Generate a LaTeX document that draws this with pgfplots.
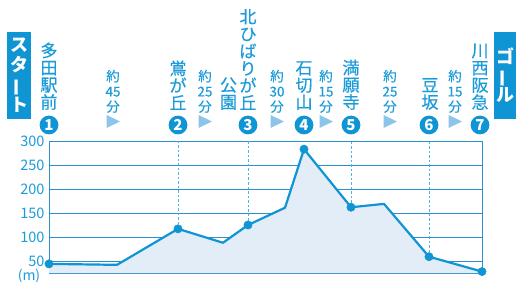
\documentclass[border=0pt]{standalone}
\usepackage{pgfplots}
\pgfplotsset{compat=1.18}
\usepackage{fontspec}
\setmainfont{Noto Sans CJK JP}
\newfontfamily\medfont[FakeBold=0.5]{Noto Sans CJK JP}
\definecolor{mainblue}{HTML}{0F95D4}
\definecolor{textblue}{HTML}{1C9BD8}
\definecolor{gridblue}{HTML}{2A8FCB}
\definecolor{lightfill}{HTML}{E2EDF8}
\definecolor{triblue}{HTML}{8DC4EA}
\definecolor{dashblue}{HTML}{4DB2E4}
\newcommand{\vbar}{\rotatebox[origin=c]{90}{ー}}
\newcommand{\station}[2]{\node[anchor=south,inner sep=0pt,align=center,font=\medfont\fontsize{17}{17.2}\selectfont,text=textblue] at (#1,171) {#2};}
\newcommand{\stnum}[2]{\fill[mainblue] (#1,156) circle (9.4);
  \node[text=white,font=\fontsize{15}{15}\selectfont\bfseries,inner sep=0pt] at (#1,156) {#2};}
\newcommand{\walk}[2]{\node[anchor=south,inner sep=0pt,align=center,font=\medfont\fontsize{13.5}{15.2}\selectfont,text=textblue] at (#1,168) {#2};
  \fill[triblue] (#1-6.5,166) -- (#1+7,159.5) -- (#1-6.5,153) -- cycle;}
\begin{document}
\begin{tikzpicture}[x=1pt,y=1pt]
\path[use as bounding box] (0,0) rectangle (516,281);
\begin{axis}[
  at={(49pt,8pt)}, anchor=south west,
  scale only axis, width=433pt, height=132pt,
  xmin=49, xmax=482, ymin=25, ymax=300,
  xtick=\empty,
  ytick={50,100,150,200,250,300},
  ymajorgrids, grid style={gridblue, line width=0.8pt},
  axis line style={gridblue, line width=0.8pt},
  tick style={draw=none},
  yticklabel style={text=textblue, font=\fontsize{14.5}{14.5}\selectfont, xshift=-1pt},
  /pgf/number format/assume math mode=true,
  clip=false,
]
\addplot[draw=none, fill=lightfill] coordinates {
 (49,44) (117,42) (178,117) (223,88) (248,125) (285,161) (304,283) (351,162) (384,169) (429,59) (482,28) (482,25) (49,25)} \closedcycle;
\addplot[dashblue, dashed, line width=0.8pt, dash pattern=on 2.5pt off 2pt] coordinates {(178,117) (178,300)};
\addplot[dashblue, dashed, line width=0.8pt, dash pattern=on 2.5pt off 2pt] coordinates {(248,125) (248,300)};
\addplot[dashblue, dashed, line width=0.8pt, dash pattern=on 2.5pt off 2pt] coordinates {(351,162) (351,300)};
\addplot[dashblue, dashed, line width=0.8pt, dash pattern=on 2.5pt off 2pt] coordinates {(429,59) (429,300)};
\addplot[mainblue, line width=2.2pt, line join=round] coordinates {
 (49,44) (117,42) (178,117) (223,88) (248,125) (285,161) (304,283) (351,162) (384,169) (429,59) (482,28)};
\addplot[only marks, mark=*, mark size=4.2pt, mainblue] coordinates {
 (49,44) (178,117) (248,125) (304,283) (351,162) (429,59) (482,28)};
\end{axis}
\node[text=textblue, font=\fontsize{14}{14}\selectfont, inner sep=0pt] at (29,5) {(m)};
% start / goal boxes
\fill[mainblue] (7,162) rectangle (31,249);
\node[text=white, font=\fontsize{18}{20}\selectfont\bfseries, align=center, inner sep=0pt] at (19,205.5) {ス\\タ\\\vbar\\ト};
\fill[mainblue] (494,162) rectangle (516,249);
\node[text=white, font=\fontsize{18}{19}\selectfont\bfseries, align=center, inner sep=0pt] at (505,205.5) {ゴ\\\vbar\\ル};
% stations
\station{49}{多\\田\\駅\\前}
\stnum{49}{1}
\station{178}{鴬\\が\\丘}
\stnum{178}{2}
\station{248}{北\\ひ\\ば\\り\\が\\丘}
\node[anchor=south,inner sep=0pt,align=center,font=\medfont\fontsize{17}{17.2}\selectfont,text=textblue] at (228.5,171) {公\\園};
\stnum{248}{3}
\station{304}{石\\切\\山}
\stnum{304}{4}
\station{351}{満\\願\\寺}
\stnum{351}{5}
\station{430}{豆\\坂}
\stnum{429}{6}
\station{480}{川\\西\\阪\\急}
\stnum{480}{7}
% walking times
\walk{113}{約\\45\\分}
\walk{205}{約\\25\\分}
\walk{277}{約\\30\\分}
\walk{326}{約\\15\\分}
\walk{390}{約\\25\\分}
\walk{455}{約\\15\\分}
\end{tikzpicture}
\end{document}
